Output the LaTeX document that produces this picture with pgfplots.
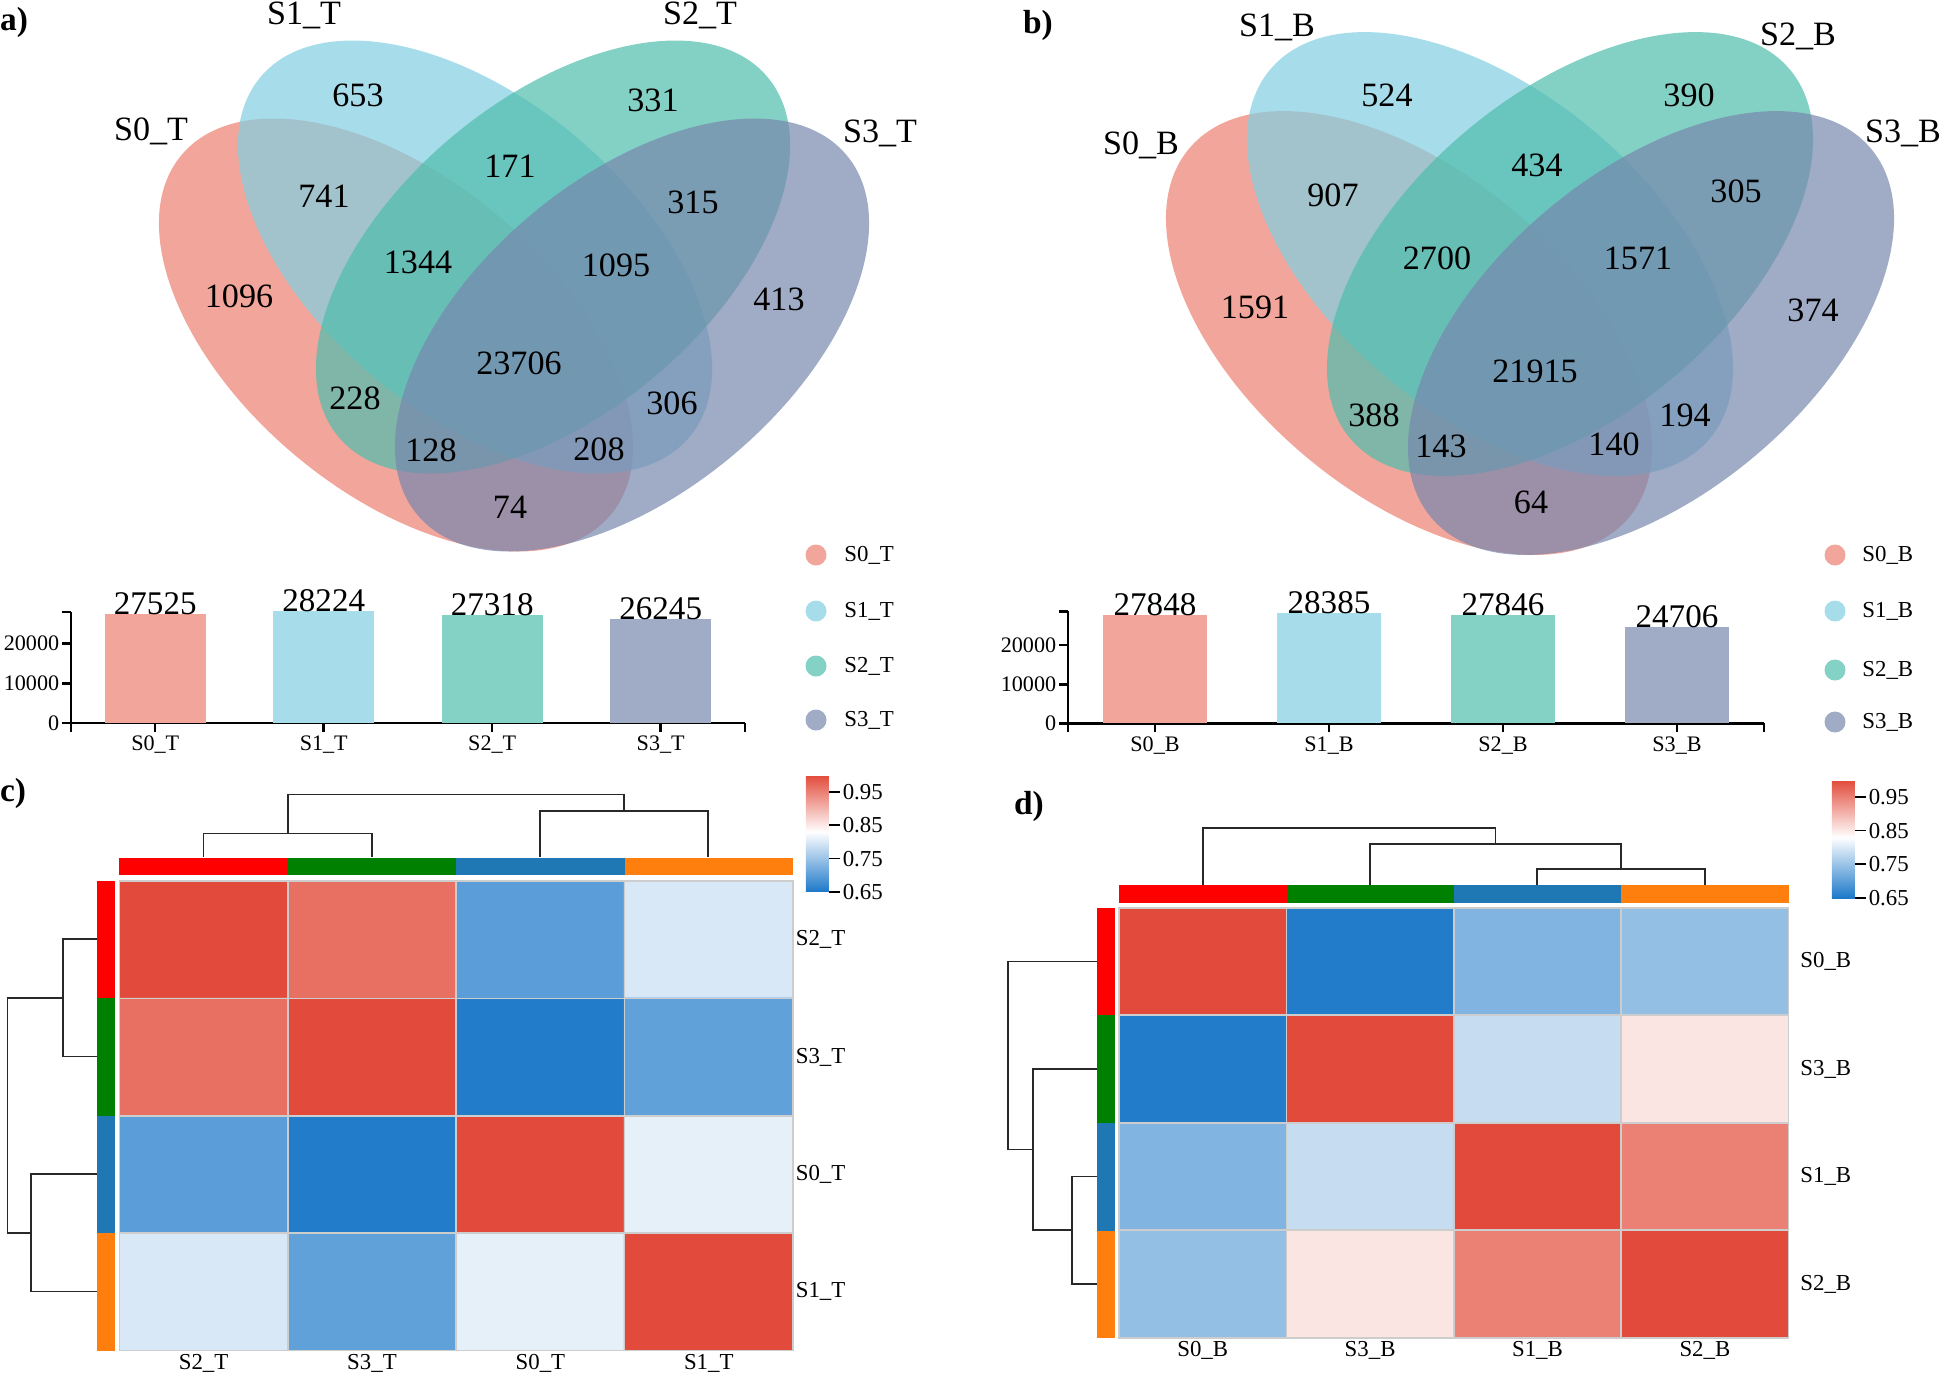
\documentclass[border=0pt]{standalone}
\usepackage{pgfplots}
\pgfplotsset{compat=1.18}
\usepackage{fontspec}
\setmainfont{Liberation Serif}
\definecolor{vr}{RGB}{236,128,112}
\definecolor{vb}{RGB}{129,206,225}
\definecolor{vg}{RGB}{79,189,172}
\definecolor{vn}{RGB}{119,135,174}
\definecolor{lr}{RGB}{242,166,155}
\definecolor{lb}{RGB}{167,221,234}
\definecolor{lg}{RGB}{132,209,197}
\definecolor{ln}{RGB}{160,171,198}
\definecolor{annred}{RGB}{255,0,0}
\definecolor{anngreen}{RGB}{0,128,0}
\definecolor{annblue}{RGB}{31,119,180}
\definecolor{annorange}{RGB}{255,127,14}
\definecolor{cellgrid}{RGB}{205,205,205}
\definecolor{dend}{RGB}{40,40,40}
\newcommand{\fs}[1]{\fontsize{#1}{#1}\selectfont}
\pgfplotsset{
  colormap={hm}{rgb255(0cm)=(28,120,201); rgb255(18cm)=(255,255,255); rgb255(35cm)=(226,75,59)},
  /pgf/number format/assume math mode=true,
  /pgf/number format/1000 sep={},
  barax/.style={anchor=south west, scale only axis,
    xmin=-0.5, xmax=3.5, ymin=0,
    axis lines*=left, axis line style={black, line width=0.25mm},
    tick align=outside, major tick length=0.9mm, tick style={black, line width=0.25mm},
    tick label style={font=\fs{6.3}}, scaled y ticks=false,
    yticklabel style={inner sep=0.6pt}, xticklabel style={inner sep=1pt},
    clip=false},
  vbar/.style={ybar, bar shift=0pt, bar width=0.6, fill=#1, draw=none,
    nodes near coords, nodes near coords style={anchor=base, yshift=-0.1mm, font=\fs{9.4}, text=black}},
  heat/.style={anchor=north west, scale only axis, xmin=-0.5, xmax=3.5, ymin=-0.5, ymax=3.5,
    y dir=reverse, enlargelimits=false, colormap name=hm, point meta min=0.65, point meta max=1.0,
    xtick={0,1,2,3}, ytick={0,1,2,3}, yticklabel pos=right, major tick length=0pt,
    tick label style={font=\fs{6.5}},
    xticklabel style={inner sep=0.8pt}, yticklabel style={inner sep=0.6pt},
    minor xtick={0.5,1.5,2.5}, minor ytick={0.5,1.5,2.5}, minor tick length=0pt,
    xminorgrids, yminorgrids, minor grid style={cellgrid, line width=0.18mm},
    axis on top, axis line style={cellgrid, line width=0.18mm}},
  cbar/.style={colorbar style={at={(parent axis.north east)}, anchor=north west,
    scale only axis, width=2.3mm, y dir=normal,
    ytick={0.65,0.75,0.85,0.95}, ytick pos=right, yticklabel pos=right,
    axis line style={draw=none}, tick align=outside, major tick length=1.1mm,
    ytick style={black, line width=0.45pt},
    yticklabel style={font=\fs{6.5}, inner sep=0.6pt, /pgf/number format/.cd, fixed, fixed zerofill, precision=2},
    #1}},
  dline/.style={dend, line width=0.16mm, no markers},
}
\begin{document}
\begin{tikzpicture}
\useasboundingbox (0,0) rectangle (194.4mm,-137.7mm);
% ---------------- canvas (pixel coordinates) ----------------
\begin{axis}[at={(0,0)}, anchor=north west, x=0.1mm, y=0.1mm, y dir=reverse,
  xmin=0, xmax=1944, ymin=0, ymax=1377, hide axis, clip=false]
% Venn a
\fill[vr, fill opacity=0.7, rotate around={-40:(axis cs:396,335)}] (axis cs:396,335) ellipse [x radius=28mm, y radius=15.7mm];
\fill[vb, fill opacity=0.7, rotate around={-40:(axis cs:475,257)}] (axis cs:475,257) ellipse [x radius=28mm, y radius=15.7mm];
\fill[vg, fill opacity=0.7, rotate around={40:(axis cs:553,257)}] (axis cs:553,257) ellipse [x radius=28mm, y radius=15.7mm];
\fill[vn, fill opacity=0.7, rotate around={40:(axis cs:632,335)}] (axis cs:632,335) ellipse [x radius=28mm, y radius=15.7mm];
\begin{scope}[every node/.style={font=\fs{9.7}}]
\node at (axis cs:358,95) {653};
\node at (axis cs:653,100) {331};
\node at (axis cs:510,166) {171};
\node at (axis cs:324,196) {741};
\node at (axis cs:693,202) {315};
\node at (axis cs:418,262) {1344};
\node at (axis cs:616,265) {1095};
\node at (axis cs:239,296) {1096};
\node at (axis cs:779,299) {413};
\node at (axis cs:519,363) {23706};
\node at (axis cs:355,398) {228};
\node at (axis cs:672,403) {306};
\node at (axis cs:431,450) {128};
\node at (axis cs:599,449) {208};
\node at (axis cs:510,507) {74};
\node at (axis cs:304,15) {S1\_T};
\node at (axis cs:700,15) {S2\_T};
\node at (axis cs:151,131) {S0\_T};
\node at (axis cs:880,133) {S3\_T};
\end{scope}
% Venn b
\fill[vr, fill opacity=0.7, rotate around={-40:(axis cs:1409,333)}] (axis cs:1409,333) ellipse [x radius=28.7mm, y radius=16.1mm];
\fill[vb, fill opacity=0.7, rotate around={-40:(axis cs:1490,254)}] (axis cs:1490,254) ellipse [x radius=28.7mm, y radius=16.1mm];
\fill[vg, fill opacity=0.7, rotate around={40:(axis cs:1570,254)}] (axis cs:1570,254) ellipse [x radius=28.7mm, y radius=16.1mm];
\fill[vn, fill opacity=0.7, rotate around={40:(axis cs:1651,333)}] (axis cs:1651,333) ellipse [x radius=28.7mm, y radius=16.1mm];
\begin{scope}[every node/.style={font=\fs{9.7}}]
\node at (axis cs:1387,95) {524};
\node at (axis cs:1689,95) {390};
\node at (axis cs:1537,165) {434};
\node at (axis cs:1333,195) {907};
\node at (axis cs:1736,191) {305};
\node at (axis cs:1437,258) {2700};
\node at (axis cs:1638,258) {1571};
\node at (axis cs:1255,307) {1591};
\node at (axis cs:1813,310) {374};
\node at (axis cs:1535,371) {21915};
\node at (axis cs:1374,415) {388};
\node at (axis cs:1685,415) {194};
\node at (axis cs:1441,446) {143};
\node at (axis cs:1614,444) {140};
\node at (axis cs:1531,502) {64};
\node at (axis cs:1277,27) {S1\_B};
\node at (axis cs:1798,36) {S2\_B};
\node at (axis cs:1141,145) {S0\_B};
\node at (axis cs:1903,133) {S3\_B};
\end{scope}
% panel labels
\node[font=\bfseries\fs{9.5}] at (axis cs:14,22) {a)};
\node[font=\bfseries\fs{9.5}] at (axis cs:1038,25) {b)};
\node[font=\bfseries\fs{9.5}] at (axis cs:13,793) {c)};
\node[font=\bfseries\fs{9.5}] at (axis cs:1029,806) {d)};
% legends
\fill[lr] (axis cs:816,555) circle [radius=1.05mm];
\fill[lb] (axis cs:816,611) circle [radius=1.05mm];
\fill[lg] (axis cs:816,666) circle [radius=1.05mm];
\fill[ln] (axis cs:816,720) circle [radius=1.05mm];
\node[anchor=west, font=\fs{6.5}] at (axis cs:832,555) {S0\_T};
\node[anchor=west, font=\fs{6.5}] at (axis cs:832,611) {S1\_T};
\node[anchor=west, font=\fs{6.5}] at (axis cs:832,666) {S2\_T};
\node[anchor=west, font=\fs{6.5}] at (axis cs:832,720) {S3\_T};
\fill[lr] (axis cs:1835,555) circle [radius=1.05mm];
\fill[lb] (axis cs:1835,611) circle [radius=1.05mm];
\fill[lg] (axis cs:1835,670) circle [radius=1.05mm];
\fill[ln] (axis cs:1835,722) circle [radius=1.05mm];
\node[anchor=west, font=\fs{6.5}] at (axis cs:1850,555) {S0\_B};
\node[anchor=west, font=\fs{6.5}] at (axis cs:1850,611) {S1\_B};
\node[anchor=west, font=\fs{6.5}] at (axis cs:1850,670) {S2\_B};
\node[anchor=west, font=\fs{6.5}] at (axis cs:1850,722) {S3\_B};
% annotation bars c
\fill[annred] (axis cs:119.4,857.6) rectangle (axis cs:287.7,875.4);
\fill[anngreen] (axis cs:287.7,857.6) rectangle (axis cs:456,875.4);
\fill[annblue] (axis cs:456,857.6) rectangle (axis cs:624.5,875.4);
\fill[annorange] (axis cs:624.5,857.6) rectangle (axis cs:793,875.4);
\fill[annred] (axis cs:97,881) rectangle (axis cs:115,998);
\fill[anngreen] (axis cs:97,998) rectangle (axis cs:115,1115.5);
\fill[annblue] (axis cs:97,1115.5) rectangle (axis cs:115,1233);
\fill[annorange] (axis cs:97,1233) rectangle (axis cs:115,1350.5);
% annotation bars d
\fill[annred] (axis cs:1119,885) rectangle (axis cs:1286.8,902.5);
\fill[anngreen] (axis cs:1286.8,885) rectangle (axis cs:1453.9,902.5);
\fill[annblue] (axis cs:1453.9,885) rectangle (axis cs:1621,902.5);
\fill[annorange] (axis cs:1621,885) rectangle (axis cs:1788.6,902.5);
\fill[annred] (axis cs:1096.7,907.6) rectangle (axis cs:1114.7,1015);
\fill[anngreen] (axis cs:1096.7,1015) rectangle (axis cs:1114.7,1122.6);
\fill[annblue] (axis cs:1096.7,1122.6) rectangle (axis cs:1114.7,1230.5);
\fill[annorange] (axis cs:1096.7,1230.5) rectangle (axis cs:1114.7,1338);
% dendrograms c
\addplot[dline] coordinates {(203.5,857) (203.5,833.6) (372,833.6) (372,857)};
\addplot[dline] coordinates {(540,857) (540,811) (708,811) (708,857)};
\addplot[dline] coordinates {(287.75,833.6) (287.75,794.6) (624,794.6) (624,811)};
\addplot[dline] coordinates {(97,939) (63,939) (63,1056.5) (97,1056.5)};
\addplot[dline] coordinates {(97,1174) (31,1174) (31,1291.5) (97,1291.5)};
\addplot[dline] coordinates {(63,997.75) (7.4,997.75) (7.4,1232.75) (31,1232.75)};
% dendrograms d
\addplot[dline] coordinates {(1537,885) (1537,869) (1705,869) (1705,885)};
\addplot[dline] coordinates {(1370,885) (1370,844) (1621,844) (1621,869)};
\addplot[dline] coordinates {(1203,885) (1203,827.7) (1495.5,827.7) (1495.5,844)};
\addplot[dline] coordinates {(1096.7,1176.5) (1071.9,1176.5) (1071.9,1284) (1096.7,1284)};
\addplot[dline] coordinates {(1096.7,1069) (1033,1069) (1033,1230.25) (1071.9,1230.25)};
\addplot[dline] coordinates {(1096.7,961.6) (1008,961.6) (1008,1149.6) (1033,1149.6)};
\end{axis}
% ---------------- bar chart a ----------------
\begin{axis}[barax, at={(7.1mm,-72.3mm)}, width=67.4mm, height=11.12mm, ymax=28000,
  xtick={-0.5,0,1,2,3,3.5}, xticklabels={,S0\_T,S1\_T,S2\_T,S3\_T,},
  ytick={0,10000,20000,28000}, yticklabels={0,10000,20000,}]
\addplot[vbar=lr] coordinates {(0,27525)};
\addplot[vbar=lb] coordinates {(1,28224)};
\addplot[vbar=lg] coordinates {(2,27318)};
\addplot[vbar=ln] coordinates {(3,26245)};
\end{axis}
% ---------------- bar chart b ----------------
\begin{axis}[barax, at={(106.8mm,-72.33mm)}, width=69.6mm, height=11.2mm, ymax=28700,
  xtick={-0.5,0,1,2,3,3.5}, xticklabels={,S0\_B,S1\_B,S2\_B,S3\_B,},
  ytick={0,10000,20000,28700}, yticklabels={0,10000,20000,}]
\addplot[vbar=lr] coordinates {(0,27848)};
\addplot[vbar=lb] coordinates {(1,28385)};
\addplot[vbar=lg] coordinates {(2,27846)};
\addplot[vbar=ln] coordinates {(3,24706)};
\end{axis}
% ---------------- heatmap c ----------------
\begin{axis}[heat, at={(11.94mm,-88.1mm)}, width=67.36mm, height=46.96mm,
  xticklabels={S2\_T,S3\_T,S0\_T,S1\_T}, yticklabels={S2\_T,S3\_T,S0\_T,S1\_T},
  colorbar, cbar={xshift=-1.7mm, yshift=10.6mm, height=11.7mm}]
\addplot[matrix plot*, mesh/cols=4, point meta=explicit] table[meta=c] {
x y c
0 0 1.00
1 0 0.965
2 0 0.70
3 0 0.80
0 1 0.965
1 1 1.00
2 1 0.655
3 1 0.705
0 2 0.70
1 2 0.655
2 2 1.00
3 2 0.81
0 3 0.80
1 3 0.705
2 3 0.81
3 3 1.00
};
\end{axis}
% ---------------- heatmap d ----------------
\begin{axis}[heat, at={(111.9mm,-90.76mm)}, width=66.96mm, height=43.04mm,
  xticklabels={S0\_B,S3\_B,S1\_B,S2\_B}, yticklabels={S0\_B,S3\_B,S1\_B,S2\_B},
  yticklabel style={xshift=0.9mm},
  colorbar, cbar={xshift=1.34mm, yshift=12.76mm, height=11.8mm}]
\addplot[matrix plot*, mesh/cols=4, point meta=explicit] table[meta=c] {
x y c
0 0 1.00
1 0 0.655
2 0 0.73
3 0 0.745
0 1 0.655
1 1 1.00
2 1 0.785
3 1 0.855
0 2 0.73
1 2 0.785
2 2 1.00
3 2 0.95
0 3 0.745
1 3 0.855
2 3 0.95
3 3 1.00
};
\end{axis}
\end{tikzpicture}
\end{document}
